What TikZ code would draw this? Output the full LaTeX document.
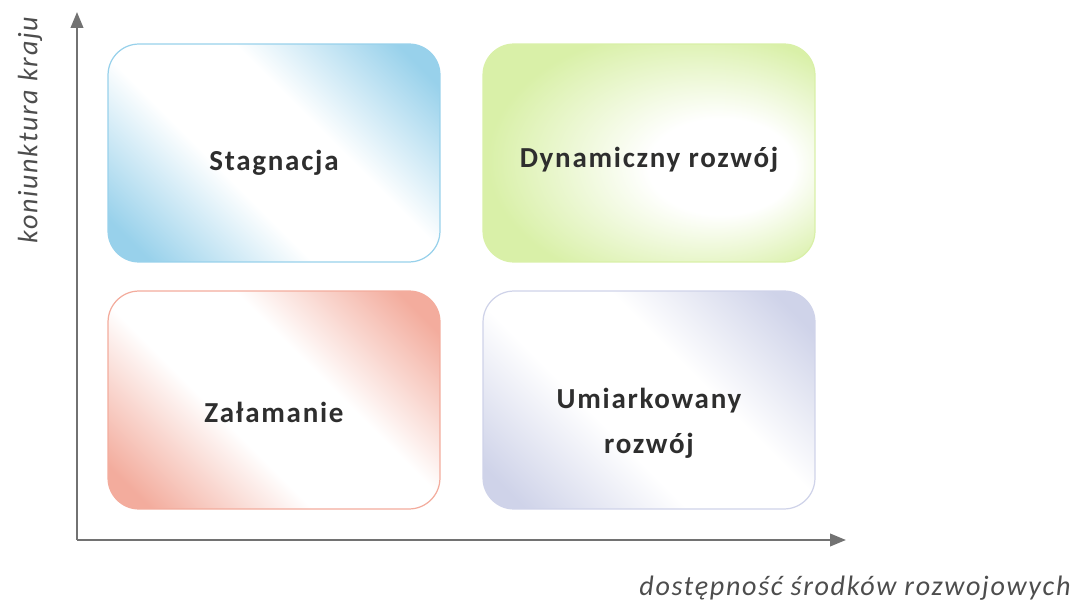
\documentclass[tikz,border=0pt]{standalone}
\usepackage{fontspec}
\setmainfont{Carlito}
\newfontfamily\etykieta[LetterSpace=6]{Carlito}
\usetikzlibrary{arrows.meta}

\definecolor{asse}{HTML}{727272}
\definecolor{testo}{HTML}{2E2E2E}
\definecolor{niebieski}{HTML}{98D1EB}
\definecolor{zielony}{HTML}{D9F0A8}
\definecolor{lososiowy}{HTML}{F3AC9D}
\definecolor{lawendowy}{HTML}{CFD3E9}

% cieniowanie: pas bialy po przekatnej
\pgfdeclarehorizontalshading[kolor]{pasmo}{100bp}{color(0bp)=(kolor); color(20bp)=(kolor); color(41bp)=(white); color(59bp)=(white); color(80bp)=(kolor); color(100bp)=(kolor)}
% cieniowanie: biala plama w srodku
\pgfdeclareradialshading[kolor]{plama}{\pgfpoint{14bp}{-4bp}}{color(0bp)=(white); color(11bp)=(white); color(30bp)=(kolor); color(50bp)=(kolor)}

\tikzset{
  quadrante/.style={rounded corners=0.62cm, minimum width=6.64cm, minimum height=4.36cm,
    line width=0.7pt},
  pasmowy/.style={quadrante, draw=#1, /utils/exec={\colorlet{kolor}{#1}}, shading=pasmo, shading angle=45},
  plamisty/.style={quadrante, draw=#1, /utils/exec={\colorlet{kolor}{#1}}, shading=plama},
  napis/.style={align=center, text=testo,
    font=\etykieta\fontsize{16.5}{25.5}\selectfont\bfseries},
  asse/.style={draw=asse, line width=1.4pt, -{Triangle[length=9pt, width=7pt]}},
  nomeasse/.style={text=testo!85, font=\etykieta\fontsize{16}{19}\selectfont\itshape}
}

\begin{document}
\begin{tikzpicture}[x=0.02cm, y=-0.02cm]

        \useasboundingbox (0,0) rectangle (1077,607);

        % 1. Assi del diagramma
        \coordinate (origine) at (77,540);
        \coordinate (cimay) at (77,12);
        \coordinate (cimax) at (846,540);
        \draw[asse] (origine) -- (cimay);
        \draw[asse] (origine) -- (cimax);

        % 2. Etichette degli assi
        \node[nomeasse, rotate=90] (etiy) at (30,130) {koniunktura kraju};
        \node[nomeasse] (etix) at (855,588) {dostępność środków rozwojowych};

        % 3. I quattro quadranti
        \node[pasmowy=niebieski] (stagnacja) at (274,153) {};
        \node[plamisty=zielony] (dynamiczny) at (649,153) {};
        \node[pasmowy=lososiowy] (zalamanie) at (274,400) {};
        \node[pasmowy=lawendowy] (umiarkowany) at (649,400) {};

        % 4. Scritte nei quadranti
        \node[napis] (stagnacjaN) at ([yshift=-0.2cm]stagnacja.center) {Stagnacja};
        \node[napis] (dynamicznyN) at ([yshift=-0.14cm]dynamiczny.center) {Dynamiczny rozwój};
        \node[napis] (zalamanieN) at ([yshift=-0.24cm]zalamanie.center) {Załamanie};
        \node[napis] (umiarkowanyN) at ([yshift=-0.46cm]umiarkowany.center) {Umiarkowany\\rozwój};

    \end{tikzpicture}
\end{document}
